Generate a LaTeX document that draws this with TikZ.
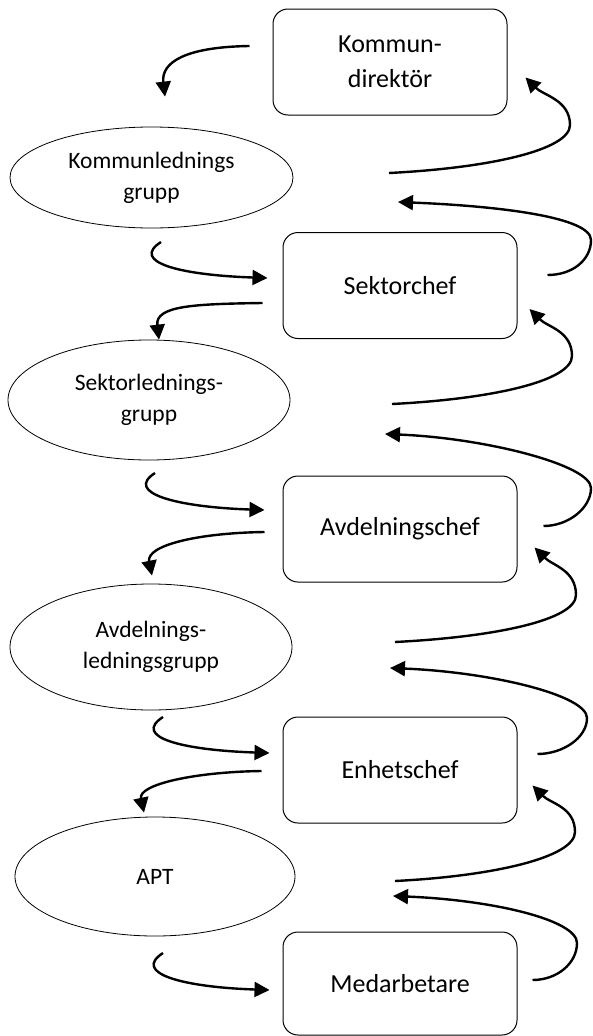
\documentclass[tikz,border=0pt]{standalone}
\usepackage{fontspec}
\setmainfont{Carlito}
\usetikzlibrary{arrows.meta,shapes.geometric}
\begin{document}
\begin{tikzpicture}[x=1pt,y=-1pt,
  box/.style={draw, line width=1pt, rounded corners=15pt, minimum width=234pt, minimum height=106pt, inner sep=0pt, align=center, font=\fontsize{26}{35}\selectfont},
  ell/.style={draw, ellipse, line width=0.8pt, inner sep=0pt, align=center, font=\fontsize{23.5}{31}\selectfont},
  arr/.style={line width=2.4pt, -{Triangle[length=15pt,width=15pt]}}]
\useasboundingbox (0,0) rectangle (593,1036);

% boxes
\node[box] (kd) at (390,62) {Kommun-\\direktör};
\node[box] (sc) at (400,285.5) {Sektorchef};
\node[box] (ac) at (400,529) {Avdelningschef};
\node[box] (ec) at (400,770) {Enhetschef};
\node[box, minimum height=103pt] (ma) at (400,983.5) {Medarbetare};

% ellipses
\node[ell, minimum width=283pt, minimum height=101pt] (klg) at (151.5,177.5) {Kommunlednings\\grupp};
\node[ell, minimum width=282pt, minimum height=120pt] (slg) at (149,400) {Sektorlednings-\\grupp};
\node[ell, minimum width=282pt, minimum height=126pt] (alg) at (151,647) {Avdelnings-\\ledningsgrupp};
\node[ell, minimum width=280pt, minimum height=119pt] (apt) at (155,876.5) {APT};

% free ends
\coordinate (h1) at (161,242);
\coordinate (h2) at (155,473);
\coordinate (h3) at (163,717);
\coordinate (h4) at (163,953);
\coordinate (u1) at (389,173); \coordinate (r1) at (570,125);
\coordinate (u2) at (392,404); \coordinate (r2) at (572,356);
\coordinate (u3) at (395,642); \coordinate (r3) at (576,595);
\coordinate (u4) at (395,881); \coordinate (r4) at (575,832);
\coordinate (f1r) at (591,240); \coordinate (f1t) at (398,202);
\coordinate (f2r) at (591,488); \coordinate (f2t) at (385,434);
\coordinate (f3r) at (587,718); \coordinate (f3t) at (390,668);
\coordinate (f4r) at (577,943); \coordinate (f4t) at (393,896);

% hooks into boxes
\draw[arr] (h1) .. controls +(-31,20) and +(-88,-3) .. ([shift={(-15,-7.5)}]sc.west);
\draw[arr] (h2) .. controls +(-31,20) and +(-88,-3) .. ([shift={(-18,-19)}]ac.west);
\draw[arr] (h3) .. controls +(-31,20) and +(-88,-3) .. ([shift={(-13,-17)}]ec.west);
\draw[arr] (h4) .. controls +(-31,20) and +(-88,-3) .. ([shift={(-13,6.5)}]ma.west);

% down arrows to ellipses
\draw[arr] ([shift={(-23,-16)}]kd.west) .. controls +(-65,1) and +(-4,-34) .. ([shift={(13.5,-30)}]klg.north);
\draw[arr] ([shift={(-20,17.5)}]sc.west) .. controls +(-68,1) and +(-4,-34) .. ([shift={(10,0)}]slg.north);
\draw[arr] ([shift={(-18,3)}]ac.west) .. controls +(-68,1) and +(-6,-30) .. ([shift={(1,-8)}]alg.north);
\draw[arr] ([shift={(-21,1)}]ec.west) .. controls +(-68,1) and +(-6,-28) .. ([shift={(-11,-4)}]apt.north);

% up arrows into box corners
\draw[arr] (u1) .. controls +(100,-5) and +(0,25) .. (r1) .. controls +(0,-25) and +(18,18) .. ([shift={(18,-38)}]kd.south east);
\draw[arr] (u2) .. controls +(100,-5) and +(0,25) .. (r2) .. controls +(0,-25) and +(18,18) .. ([shift={(12,-30)}]sc.south east);
\draw[arr] (u3) .. controls +(100,-5) and +(0,25) .. (r3) .. controls +(0,-25) and +(18,18) .. ([shift={(17,-35)}]ac.south east);
\draw[arr] (u4) .. controls +(100,-5) and +(0,25) .. (r4) .. controls +(0,-25) and +(18,18) .. ([shift={(15,-38)}]ec.south east);

% feedback arrows
\draw[arr] ([shift={(30,-10.5)}]sc.east) .. controls +(25,0) and +(0,20) .. (f1r) .. controls +(0,-23) and +(100,4) .. (f1t);
\draw[arr] ([shift={(26,-3)}]ac.east) .. controls +(25,0) and +(0,20) .. (f2r) .. controls +(0,-23) and +(100,4) .. (f2t);
\draw[arr] ([shift={(20,-16)}]ec.east) .. controls +(25,0) and +(0,20) .. (f3r) .. controls +(0,-23) and +(100,4) .. (f3t);
\draw[arr] ([shift={(15,-3.5)}]ma.east) .. controls +(25,0) and +(0,20) .. (f4r) .. controls +(0,-23) and +(100,4) .. (f4t);
\end{tikzpicture}
\end{document}
